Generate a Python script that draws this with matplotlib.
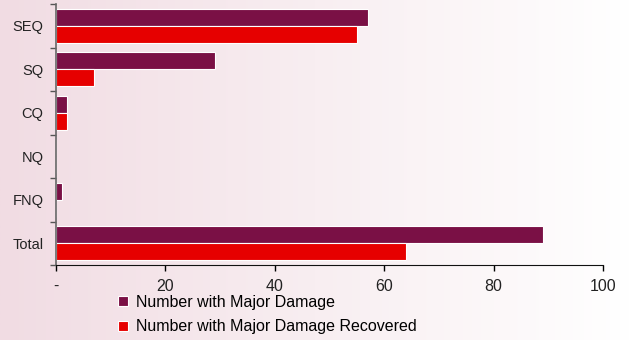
import numpy as np
import matplotlib.pyplot as plt
from matplotlib.colors import LinearSegmentedColormap

regions = ["SEQ", "SQ", "CQ", "NQ", "FNQ", "Total"]
major_damage = [57, 29, 2, 0, 1, 89]
recovered = [55, 7, 2, 0, 0, 64]
x_ticks = [0, 20, 40, 60, 80, 100]
x_labels = ["-", "20", "40", "60", "80", "100"]

purple = "#7a1045"
red = "#e60000"

plt.rcParams["font.family"] = ["Liberation Sans", "DejaVu Sans"]

fig = plt.figure(figsize=(6.3, 3.4), dpi=100)

# background gradient: pink on the left fading to white
bg = fig.add_axes([0, 0, 1, 1], zorder=-1)
cmap = LinearSegmentedColormap.from_list("bg", ["#f1dce3", "#f8eef1", "#ffffff"])
bg.imshow(np.linspace(0, 1, 256).reshape(1, -1), aspect="auto", cmap=cmap,
          extent=[0, 1, 0, 1])
bg.axis("off")

ax = fig.add_axes([0.089, 0.22, 0.868, 0.768])
ax.patch.set_alpha(0)

y = np.arange(len(regions))
h = 0.39
ax.barh(y - h / 2, major_damage, height=h, color=purple, edgecolor="white",
        linewidth=0.8, label="Number with Major Damage")
ax.barh(y + h / 2, recovered, height=h, color=red, edgecolor="white",
        linewidth=0.8, label="Number with Major Damage Recovered")

ax.set_xlim(0, 100)
ax.set_ylim(len(regions) - 0.5, -0.5)

ax.set_xticks(x_ticks)
ax.set_xticklabels(x_labels, fontsize=11.5, color="#222222")
ax.tick_params(axis="x", length=4, width=1, pad=6)

ax.set_yticks(y)
ax.set_yticklabels(regions, fontsize=10.5, color="#222222")
ax.set_yticks(np.arange(-0.5, len(regions), 1), minor=True)
ax.tick_params(axis="y", which="major", length=0, pad=9)
ax.tick_params(axis="y", which="minor", length=4, width=1, color="#555555")

for s in ["top", "right"]:
    ax.spines[s].set_visible(False)
ax.spines["left"].set_color("#666666")
ax.spines["left"].set_linewidth(1.2)
ax.spines["bottom"].set_color("#111111")

fig.legend(loc="lower left", bbox_to_anchor=(0.165, -0.026), frameon=False,
           fontsize=11.5, handlelength=0.6, handleheight=0.6, handletextpad=0.5,
           labelspacing=0.6)

fig.savefig("out.png", dpi=100)
